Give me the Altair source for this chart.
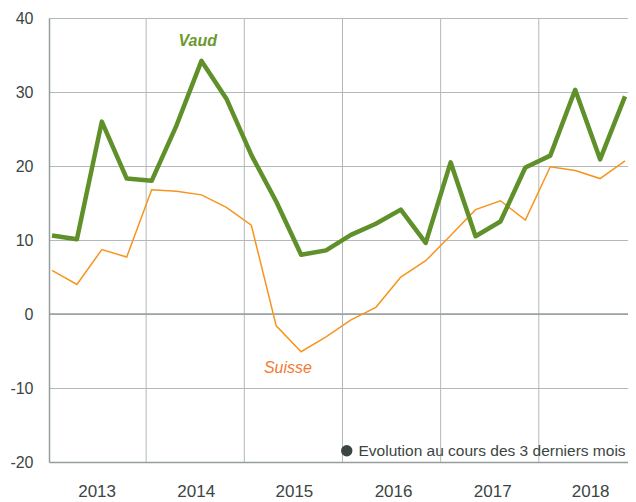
import altair as alt
import pandas as pd

# Quarterly periods 2013 T1 .. 2018 T4
periods = [f"{y} T{q}" for y in range(2013, 2019) for q in range(1, 5)]
vaud = [10.6, 10.1, 26.0, 18.3, 18.0, 25.5, 34.2, 29.1, 21.5, 15.2, 8.0, 8.6,
        10.7, 12.2, 14.1, 9.6, 20.5, 10.5, 12.5, 19.8, 21.4, 30.3, 20.9, 29.4]
suisse = [5.9, 4.0, 8.7, 7.7, 16.8, 16.6, 16.1, 14.4, 12.0, -1.6, -5.1, -3.1,
          -0.8, 0.9, 5.0, 7.2, 10.6, 14.1, 15.3, 12.7, 19.9, 19.4, 18.3, 20.7]
years = [2013, 2014, 2015, 2016, 2017, 2018]
year_label_pos = [1.79, 5.77, 9.71, 13.69, 17.67, 21.6]
year_bounds = [3.78, 7.72, 11.66, 15.60, 19.54]
y_ticks = [-20, -10, 0, 10, 20, 30, 40]
legend_label = "Evolution au cours des 3 derniers mois"

GREEN = "#5f902a"
ORANGE = "#f7941d"
GRID = "#b3b9b8"
AXIS = "#959e9c"
DARK = "#3b4543"
FONT = "Liberation Sans"

df = pd.DataFrame({
    "t": list(range(len(periods))),
    "periode": periods,
    "Vaud": vaud,
    "Suisse": suisse,
})

xscale = alt.Scale(domain=[-0.12, 23.12], nice=False, zero=False)
yscale = alt.Scale(domain=[-20, 40], nice=False)

base = alt.Chart(df)

vrules = alt.Chart(pd.DataFrame({"b": year_bounds})).mark_rule(
    color=GRID, strokeWidth=1
).encode(x=alt.X("b:Q", scale=xscale))

zero = alt.Chart(pd.DataFrame({"z": [0]})).mark_rule(
    color=AXIS, strokeWidth=1.5
).encode(y=alt.Y("z:Q", scale=yscale))

suisse_line = base.mark_line(color=ORANGE, strokeWidth=1.5).encode(
    x=alt.X("t:Q", scale=xscale,
            axis=alt.Axis(values=year_label_pos,
                          labelExpr="'' + round(2013 + (datum.value - 1.79) / 3.96)",
                          grid=False, ticks=False, title=None,
                          labelFontSize=17, labelColor=DARK, labelFont=FONT,
                          labelPadding=21, domainColor=AXIS, domainWidth=1.5)),
    y=alt.Y("Suisse:Q", scale=yscale,
            axis=alt.Axis(values=y_ticks, grid=True, gridColor=GRID, ticks=False,
                          labelExpr="datum.value < 0 ? '-' + abs(datum.value) : '' + datum.value",
                          title=None, labelFontSize=16, labelColor=DARK,
                          labelFont=FONT, labelPadding=16,
                          domainColor=AXIS, domainWidth=1.5)),
)

vaud_line = base.mark_line(color=GREEN, strokeWidth=4.5, strokeJoin="round").encode(
    x=alt.X("t:Q", scale=xscale),
    y=alt.Y("Vaud:Q", scale=yscale),
)

labels_df = pd.DataFrame({
    "name": ["Vaud", "Suisse"],
    "t": [5.85, 9.47],
    "v": [36.9, -7.3],
})
vaud_lbl = alt.Chart(labels_df[labels_df.name == "Vaud"]).mark_text(
    font=FONT, fontSize=16, fontWeight="bold", fontStyle="italic",
    color="#6a9a2e", align="center", baseline="middle"
).encode(x=alt.X("t:Q", scale=xscale), y=alt.Y("v:Q", scale=yscale), text="name:N")
suisse_lbl = alt.Chart(labels_df[labels_df.name == "Suisse"]).mark_text(
    font=FONT, fontSize=16, fontStyle="italic",
    color="#f47a2e", align="center", baseline="middle"
).encode(x=alt.X("t:Q", scale=xscale), y=alt.Y("v:Q", scale=yscale), text="name:N")

legend_layer = alt.Chart(pd.DataFrame({"leg": [legend_label]})).transform_filter(
    "false"
).mark_point(filled=True).encode(
    color=alt.Color("leg:N",
                    scale=alt.Scale(domain=[legend_label], range=[DARK]),
                    legend=alt.Legend(title=None, orient="bottom-right", offset=2,
                                      padding=0, symbolType="circle", symbolSize=130,
                                      labelFontSize=15.5, labelFont=FONT,
                                      labelColor=DARK, symbolOpacity=1,
                                      labelLimit=400))
)

chart = alt.layer(
    vrules, zero, suisse_line, vaud_line, vaud_lbl, suisse_lbl, legend_layer
).properties(
    width=579, height=444,
    padding={"left": 41, "top": 10, "right": 0, "bottom": 40},
    autosize="none",
).configure_view(strokeWidth=0).configure(background="white")

chart.save("out.html", embed_options={"renderer": "svg", "actions": False})
